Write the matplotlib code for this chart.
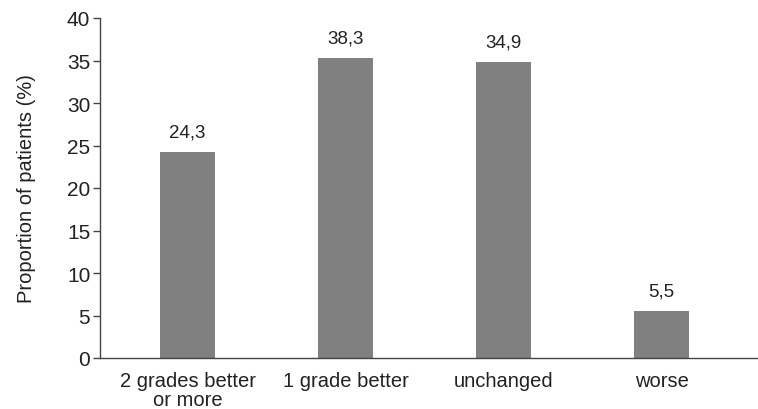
import matplotlib
matplotlib.use("Agg")
import matplotlib.pyplot as plt
import numpy as np

plt.rcParams["font.family"] = ["Liberation Sans", "DejaVu Sans"]

# 데이터 (막대 높이와 표시 라벨은 원본 그림 그대로)
categories = ["2 grades better\nor more", "1 grade better", "unchanged", "worse"]
heights = [24.2, 35.3, 34.8, 5.5]
value_labels = ["24,3", "38,3", "34,9", "5,5"]
y_ticks = [0, 5, 10, 15, 20, 25, 30, 35, 40]

fig = plt.figure(figsize=(7.58, 4.10), dpi=100)
ax = fig.add_axes([100 / 758, 51 / 410, 658 / 758, 340 / 410])

x = np.arange(len(categories))
bars = ax.bar(x, heights, width=0.348, color="#808080")

for bar, lab in zip(bars, value_labels):
    ax.annotate(lab, xy=(bar.get_x() + bar.get_width() / 2, bar.get_height()),
                xytext=(0, 14.5), textcoords="offset points",
                ha="center", va="center", fontsize=13.5, color="#222222")

ax.set_xlim(-0.554, 3.61)
ax.set_ylim(0, 40)
ax.set_yticks(y_ticks)
ax.set_xticks(x)
ax.set_xticklabels(categories, fontsize=14.5, color="#222222", linespacing=1.0)
ax.tick_params(axis="x", length=0, pad=9.5)
ax.tick_params(axis="y", length=5, width=1, color="#444444", labelsize=15,
               labelcolor="#222222", pad=2)
ax.set_ylabel("Proportion of patients (%)", fontsize=14.5, color="#222222", labelpad=22)

for s in ["top", "right"]:
    ax.spines[s].set_visible(False)
for s in ["left", "bottom"]:
    ax.spines[s].set_color("#444444")
    ax.spines[s].set_linewidth(1)

fig.savefig("out.png", dpi=100)
